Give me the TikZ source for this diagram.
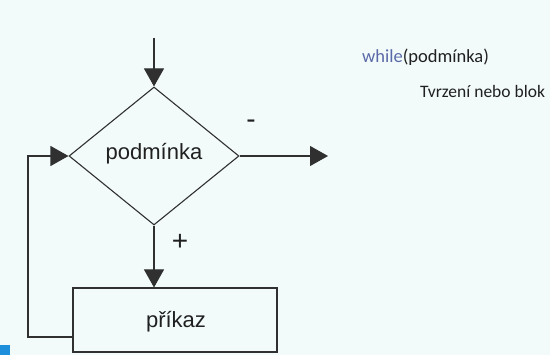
\documentclass[tikz,border=0pt]{standalone}
\usepackage{fontspec}
\setmainfont{Liberation Sans}
\newfontfamily\codefont{Carlito}
\usetikzlibrary{arrows.meta,shapes.geometric}
\definecolor{bgc}{HTML}{F2FBFA}
\definecolor{kw}{HTML}{5A6AA8}
\definecolor{txt}{HTML}{202020}
\definecolor{lin}{HTML}{303030}
\definecolor{blu}{HTML}{1E8FDA}
\begin{document}
\begin{tikzpicture}[x=1pt,y=-1pt,
  flow/.style={draw=lin,line width=1.1pt},
  tip/.style={-{Triangle[length=18pt,width=20pt]}},
  lbl/.style={font=\fontsize{22}{24}\selectfont,text=txt,inner sep=0pt},
  sign/.style={font=\fontsize{28}{30}\selectfont,text=txt,inner sep=0pt},
  code/.style={font=\codefont\fontsize{18.5}{20}\selectfont,text=txt,inner sep=0pt,anchor=base west}]
\useasboundingbox (0,0) rectangle (550,355);
\fill[bgc] (0,0) rectangle (550,355);
\fill[blu] (0,345) rectangle (10,355);
% nodes
\coordinate (start) at (154,38);
\node[flow,diamond,minimum width=170pt,minimum height=138pt,inner sep=0pt] (cond) at (154,156) {};
\node[lbl] at (154,154) {podmínka};
\node[flow,rectangle,minimum width=204pt,minimum height=64pt,inner sep=0pt] (cmd) at (175,320) {};
\node[lbl] at (176,322) {příkaz};
\coordinate (exit) at (328,156);
\coordinate (loopc) at (28,337);
% connectors
\draw[flow,tip] (start) -- (cond.north);
\draw[flow,tip] (cond.east) -- (exit);
\draw[flow,tip] (cond.south) -- (cmd.north -| cond.south);
\draw[flow,tip] (cmd.west |- loopc) -- (loopc) |- (cond.west);
\node[sign] (minus) at (251,124) {-};
\node[sign] (plus) at (180,242) {+};
% code text
\node[code] (w) at (362,63) {\textcolor{kw}{while}(podmínka)};
\node[code,font=\codefont\fontsize{17.5}{20}\selectfont] (t) at (420,98) {Tvrzení nebo blok};
\end{tikzpicture}
\end{document}
